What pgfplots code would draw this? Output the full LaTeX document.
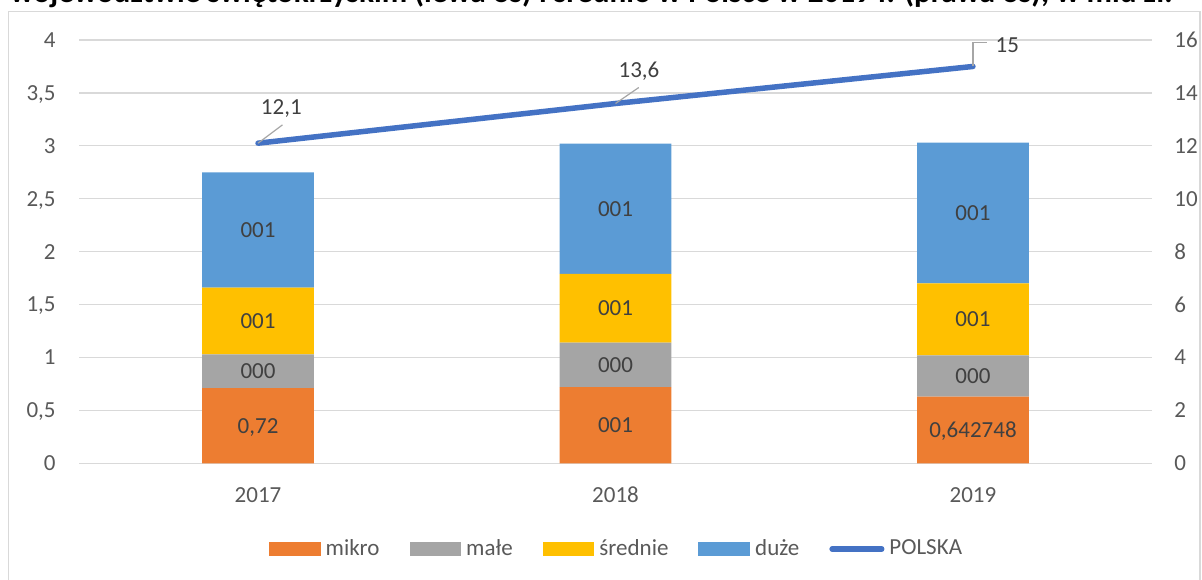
\documentclass[border=0pt]{standalone}
\usepackage{graphicx}
\usepackage{pgfplots}
\pgfplotsset{compat=1.18}
\usepackage{pgfplotstable}
\usepackage{fontspec}
\setmainfont{Carlito}
\definecolor{cMikro}{HTML}{ED7D31}
\definecolor{cMale}{HTML}{A5A5A5}
\definecolor{cSred}{HTML}{FFC000}
\definecolor{cDuze}{HTML}{5B9BD5}
\definecolor{cLine}{HTML}{4472C4}
\definecolor{gridc}{HTML}{D9D9D9}
\definecolor{txt}{HTML}{595959}
\definecolor{labc}{HTML}{404040}
\definecolor{leadc}{HTML}{A6A6A6}

\pgfplotstableread{
x y
0 0.71
1 0.72
2 0.63
}\mikro
\pgfplotstableread{
x y
0 0.32
1 0.42
2 0.39
}\male
\pgfplotstableread{
x y
0 0.63
1 0.65
2 0.68
}\srednie
\pgfplotstableread{
x y
0 1.09
1 1.23
2 1.33
}\duze
\pgfplotstableread{
x y
0 12.1
1 13.6
2 15
}\polska
\pgfplotstableread{
x y label
0 0.355 0,72
1 0.36 001
2 0.315 0,642748
0 0.87 000
1 0.93 000
2 0.825 000
0 1.345 001
1 1.465 001
2 1.36 001
0 2.205 001
1 2.405 001
2 2.365 001
}\labels

\newcommand\fs{\fontsize{11.5}{13.5}\selectfont}
\pgfplotsset{
  myaxis/.style={scale only axis, width=536.2pt, height=211.65pt,
    at={(39.65pt,57.85pt)}, anchor=south west, xmin=-0.5, xmax=2.5,
    axis line style={draw=none}, major tick length=0pt,
    tick label style={font=\fs, text=txt}},
}

\begin{document}
\begin{tikzpicture}
\useasboundingbox (0,0) rectangle (601pt,289.5pt);
\clip (0,0) rectangle (601pt,289.5pt);
\node[anchor=base west, inner sep=0pt] at (5pt,288.2pt)
  {\resizebox{581pt}{!}{\bfseries województwie świętokrzyskim (lewa oś) i średnio w Polsce w 2019 r. (prawa oś), w mld zł.}};
\draw[gridc, line width=0.6pt] (4.35pt,-5pt) rectangle (600pt,283.65pt);

\begin{axis}[myaxis, ymin=0, ymax=4,
  ybar stacked, bar width=55.85pt,
  xtick={0,1,2}, xticklabels={2017,2018,2019}, xtick pos=bottom,
  ytick={0,0.5,1,1.5,2,2.5,3,3.5,4},
  yticklabels={0,{0,5},1,{1,5},2,{2,5},3,{3,5},4}, ytick pos=left,
  ymajorgrids, grid style={color=gridc, line width=0.65pt},
  xticklabel style={anchor=center, yshift=-15.7pt, text depth=0pt},
  yticklabel style={anchor=east, inner sep=0pt, xshift=-11.65pt, text depth=0pt},
  legend columns=5,
  legend style={draw=none, fill=none, at={(0.5,-0.2025)}, anchor=center,
    font=\fs, text=txt, nodes={inner sep=0pt},
    /tikz/every odd column/.append style={column sep=2.5pt},
    /tikz/every even column/.append style={column sep=15pt}},
]
\addplot[fill=cMikro, draw=none, legend image code/.code={\fill[cMikro] (0pt,-3.35pt) rectangle (25.85pt,3.35pt);}] table[x=x,y=y] {\mikro};
\addlegendentry{mikro}
\addplot[fill=cMale, draw=none, legend image code/.code={\fill[cMale] (0pt,-3.35pt) rectangle (25.85pt,3.35pt);}] table[x=x,y=y] {\male};
\addlegendentry{małe}
\addplot[fill=cSred, draw=none, legend image code/.code={\fill[cSred] (0pt,-3.35pt) rectangle (25.85pt,3.35pt);}] table[x=x,y=y] {\srednie};
\addlegendentry{średnie}
\addplot[fill=cDuze, draw=none, legend image code/.code={\fill[cDuze] (0pt,-3.35pt) rectangle (25.85pt,3.35pt);}] table[x=x,y=y] {\duze};
\addlegendentry{duże}
\addlegendimage{legend image code/.code={\draw[cLine, line width=2.75pt, line cap=round] (1.35pt,0pt) -- (26.15pt,0pt);}}
\addlegendentry{POLSKA}
\end{axis}

\begin{axis}[myaxis, ymin=0, ymax=16, clip=false,
  ytick={0,2,4,6,8,10,12,14,16}, yticklabels={0,2,4,6,8,10,12,14,16},
  ytick pos=right, yticklabel pos=right,
  xtick=\empty,
  yticklabel style={anchor=west, inner sep=0pt, xshift=11.15pt, text depth=0pt},
]
\addplot[cLine, line width=2.75pt, line cap=round, line join=round] table[x=x,y=y] {\polska};
\draw[leadc, line width=0.6pt] (axis cs:0,12.1) -- ++(12.2pt,9.15pt);
\draw[leadc, line width=0.6pt] (axis cs:1,13.6) -- ++(11.65pt,8pt);
\draw[leadc, line width=0.6pt] (axis cs:2,15) -- ++(0pt,11.85pt) -- ++(7pt,0pt);
\node[font=\fs, text=labc, inner sep=0pt, text depth=0pt, xshift=11.65pt, yshift=18.3pt] at (axis cs:0,12.1) {12,1};
\node[font=\fs, text=labc, inner sep=0pt, text depth=0pt, xshift=11.75pt, yshift=17pt] at (axis cs:1,13.6) {13,6};
\node[font=\fs, text=labc, inner sep=0pt, text depth=0pt, xshift=17.15pt, yshift=10.8pt] at (axis cs:2,15) {15};
\end{axis}

\begin{axis}[myaxis, ymin=0, ymax=4, hide axis]
\addplot[draw=none, mark=none, nodes near coords, point meta=explicit symbolic,
  every node near coord/.append style={anchor=center, font=\fs, text=labc, inner sep=0pt, text depth=0pt}]
  table[x=x, y=y, meta=label] {\labels};
\end{axis}
\end{tikzpicture}
\end{document}
